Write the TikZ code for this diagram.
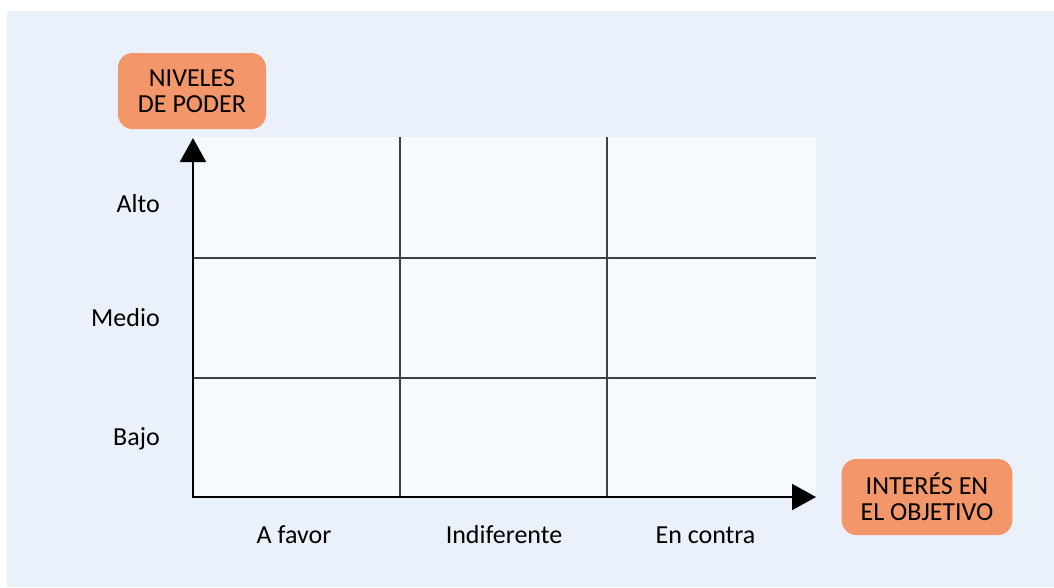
\documentclass[tikz,border=0pt]{standalone}
\usepackage{fontspec}
\setmainfont{Carlito}
\usetikzlibrary{arrows.meta}
\definecolor{bgblue}{HTML}{EAF1FA}
\definecolor{cellblue}{HTML}{F5FAFF}
\definecolor{boxorange}{HTML}{F39669}
\definecolor{gridgray}{HTML}{404040}
\tikzset{
  px/.style={x=0.75pt,y=-0.75pt},
  titlebox/.style={draw=none,fill=boxorange,rounded corners=11pt,minimum width=111pt,minimum height=57pt,align=center,inner sep=0pt,font=\fontsize{19.5pt}{19.5pt}\selectfont},
  lbl/.style={inner sep=0pt,font=\fontsize{19.5pt}{19.5pt}\selectfont},
  gridline/.style={draw=gridgray,line width=1.1pt},
  axis/.style={draw=black,line width=1.6pt,-{Triangle[width=19.5pt,length=18pt]}}
}
\begin{document}
\begin{tikzpicture}[px]
\useasboundingbox (0,0) rectangle (1054,587);
\fill[bgblue] (7,11) rectangle (1054,587);
\fill[cellblue] (192,137) rectangle (816,497);
% grid
\draw[gridline] (400,137) -- (400,497);
\draw[gridline] (607,137) -- (607,497);
\draw[gridline] (193,258) -- (816,258);
\draw[gridline] (193,378) -- (816,378);
% axes
\coordinate (o) at (193,497);
\coordinate (ytip) at (193,138);
\coordinate (xtip) at (816,497);
\draw[axis] (o) -- (ytip);
\draw[axis] ([xshift=-1pt]o) -- (xtip);
% title boxes
\node[titlebox] (poder) at (192,91) {NIVELES\\DE PODER};
\node[titlebox,minimum width=128pt] (interes) at (927,497) {INTERÉS EN\\EL OBJETIVO};
% row labels
\node[lbl,anchor=base east] (alto) at (160,212) {Alto};
\node[lbl,anchor=base east] (medio) at (160,326) {Medio};
\node[lbl,anchor=base east] (bajo) at (160,445) {Bajo};
% column labels
\node[lbl,anchor=base] (favor) at (294,543) {A favor};
\node[lbl,anchor=base] (indif) at (504,543) {Indiferente};
\node[lbl,anchor=base] (contra) at (705.5,543) {En contra};
\end{tikzpicture}
\end{document}
